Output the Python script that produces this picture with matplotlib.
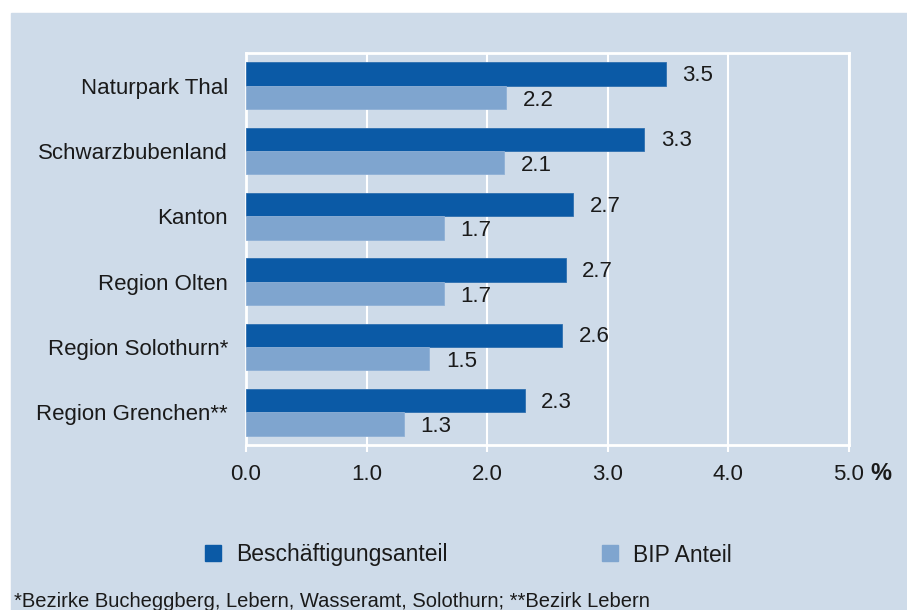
import numpy as np
import matplotlib.pyplot as plt
from matplotlib.lines import Line2D
from matplotlib.patches import Rectangle

plt.rcParams['font.family'] = ['Liberation Sans', 'DejaVu Sans']

# Daten
regionen = ['Naturpark Thal', 'Schwarzbubenland', 'Kanton', 'Region Olten',
            'Region Solothurn*', 'Region Grenchen**']
beschaeftigung = [3.48, 3.30, 2.71, 2.65, 2.62, 2.31]
bip = [2.16, 2.14, 1.64, 1.64, 1.52, 1.31]
label_besch = ['3.5', '3.3', '2.7', '2.7', '2.6', '2.3']
label_bip = ['2.2', '2.1', '1.7', '1.7', '1.5', '1.3']
xticks = [0, 1, 2, 3, 4, 5]

hg = '#cedbe9'
dunkel = '#0b5aa6'
hell = '#7fa5cf'
txt = '#1a1a1a'
fs = 16

fig = plt.figure(figsize=(9.07, 6.10), dpi=100)
fig.patch.set_facecolor('white')
fig.patches.append(Rectangle((11/907, 0), 1 - 11/907, 1 - 13/610,
                             transform=fig.transFigure, color=hg, zorder=-5))

ax = fig.add_axes([246/907, 1 - 445/610, (849-246)/907, (445-53)/610])
ax.set_facecolor(hg)
ax.set_zorder(1)

y = np.arange(len(regionen))
h = 0.355
ax.barh(y - h/2, beschaeftigung, height=h, color=dunkel, edgecolor='#2f6fb0',
        linewidth=0.6, zorder=3)
ax.barh(y + h/2, bip, height=h, color=hell, edgecolor='#8fb0d6',
        linewidth=0.6, zorder=3)

# Werte beschriften
for i in range(len(regionen)):
    ax.annotate(label_besch[i], (beschaeftigung[i], y[i] - h/2),
                xytext=(12, -1), textcoords='offset points',
                va='center', ha='left', fontsize=fs, color=txt)
    ax.annotate(label_bip[i], (bip[i], y[i] + h/2),
                xytext=(12, -2), textcoords='offset points',
                va='center', ha='left', fontsize=fs, color=txt)

ax.set_xlim(0, 5)
ax.set_ylim(len(regionen) - 0.5, -0.5)
ax.set_xticks(xticks)
ax.set_xticklabels([f'{v:.1f}' for v in xticks])
ax.set_yticks(y)
ax.set_yticklabels(regionen)
ax.tick_params(axis='y', length=0, pad=13, labelsize=fs, labelcolor=txt)
ax.tick_params(axis='x', length=5, width=1.5, color='white', pad=9,
               labelsize=fs, labelcolor=txt)
ax.xaxis.grid(True, color='white', linewidth=1.5, zorder=1)
ax.set_axisbelow(True)
for s in ax.spines.values():
    s.set_color('white')
    s.set_linewidth(2)

fig.text(881/907, 1 - 473/610, '%', fontsize=17, fontweight='bold',
         ha='center', va='center', color=txt)

handles = [Line2D([], [], marker='s', linestyle='none', markersize=11,
                  color=dunkel, label='Beschäftigungsanteil'),
           Line2D([], [], marker='s', linestyle='none', markersize=11,
                  color=hell, label='BIP Anteil')]
fig.legend(handles=handles, loc='center left', bbox_to_anchor=(181/907, 1 - 555/610),
           ncol=2, frameon=False, fontsize=16.5, handletextpad=0.5,
           columnspacing=6.6, handlelength=1.0, labelcolor=txt)

fig.text(14/907, 1 - 592/610,
         '*Bezirke Bucheggberg, Lebern, Wasseramt, Solothurn; **Bezirk Lebern',
         fontsize=14.5, ha='left', va='top', color=txt)

fig.savefig('out.png', dpi=100, facecolor='white')
